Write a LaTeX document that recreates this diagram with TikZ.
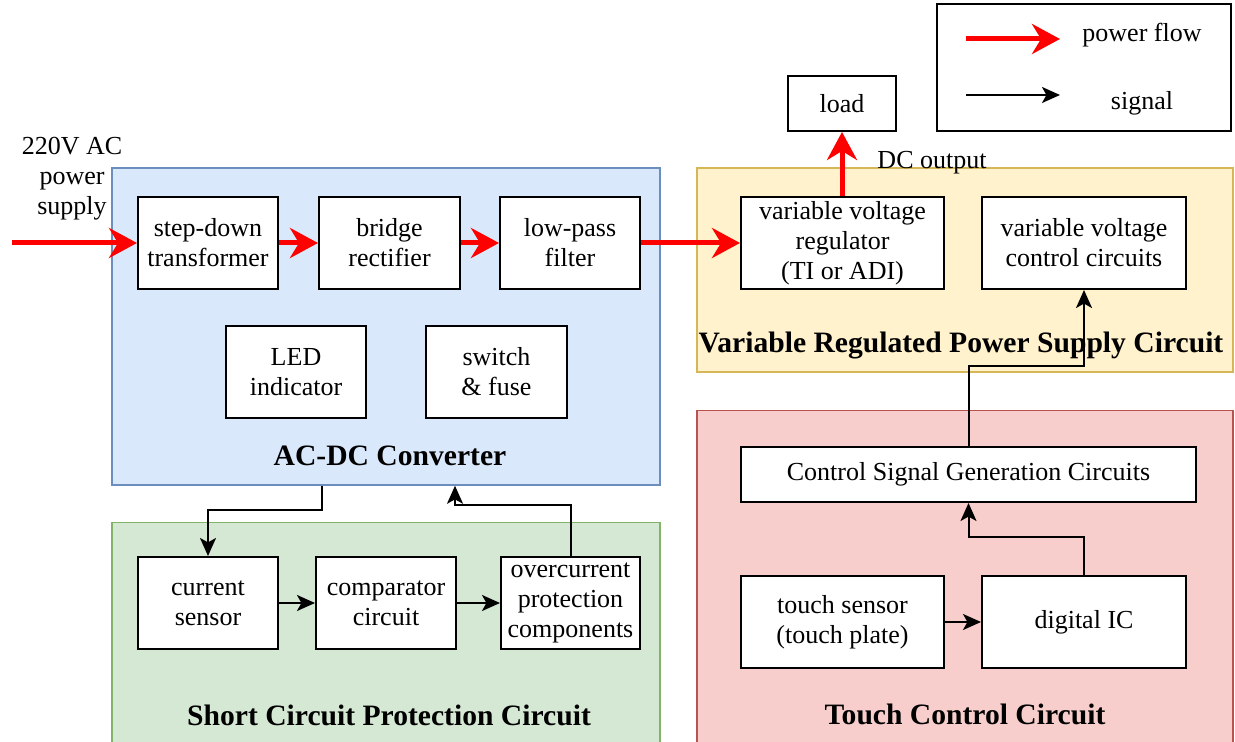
\documentclass[tikz,border=0pt]{standalone}
\usepackage{fontspec}
\setmainfont{Liberation Serif}
\usetikzlibrary{arrows.meta}
\definecolor{bfill}{HTML}{DAE8FC}\definecolor{bline}{HTML}{6C8EBF}
\definecolor{gfill}{HTML}{D5E8D4}\definecolor{gline}{HTML}{82B366}
\definecolor{yfill}{HTML}{FFF2CC}\definecolor{yline}{HTML}{D6B656}
\definecolor{rfill}{HTML}{F8CECC}\definecolor{rline}{HTML}{B85450}
\definecolor{pwred}{HTML}{FF0000}
\begin{document}
\begin{tikzpicture}[x=0.5pt,y=-0.5pt,
  box/.style={draw=black, line width=1pt, fill=white, align=center, inner sep=0pt,
    font=\fontsize{13}{15}\selectfont},
  container/.style={draw, line width=0.75pt, inner sep=0pt},
  title/.style={font=\fontsize{14.8}{17}\selectfont\bfseries},
  lbl/.style={font=\fontsize{13}{15}\selectfont, align=center, inner sep=0pt},
  pw/.style={draw=pwred, line width=2.5pt, -{Stealth[length=14pt,width=15pt,inset=4.5pt]}},
  sig/.style={draw=black, line width=1pt, -{Stealth[length=9pt,width=8pt,inset=2.2pt]}}]
\useasboundingbox[fill=white] (0,0) rectangle (1235,742);
% containers
\node[container, draw=bline, fill=bfill, minimum width=274pt, minimum height=158.5pt] (acdc) at (386,326.5) {};
\node[container, draw=gline, fill=gfill, minimum width=274pt, minimum height=112.5pt] (scp) at (386,635) {};
\node[container, draw=yline, fill=yfill, minimum width=268pt, minimum height=102pt] (vrp) at (965,270) {};
\node[container, draw=rline, fill=rfill, minimum width=268pt, minimum height=170.5pt] (tcc) at (965,581) {};
% titles
\node[title] (tacdc) at (390,456) {AC-DC Converter};
\node[title] (tvrp) at (961,345) {Variable Regulated Power Supply Circuit};
\node[title] (tscp) at (389,715) {Short Circuit Protection Circuit};
\node[title] (ttcc) at (965,714) {Touch Control Circuit};
% AC-DC boxes
\node[box, minimum width=70pt, minimum height=46pt] (sd) at (208,243) {step-down\\transformer};
\node[box, minimum width=70.5pt, minimum height=46pt] (br) at (389.5,243) {bridge\\rectifier};
\node[box, minimum width=70pt, minimum height=46pt] (lp) at (570,243) {low-pass\\filter};
\node[box, minimum width=70pt, minimum height=46pt] (led) at (296,372) {LED\\indicator};
\node[box, minimum width=70.5pt, minimum height=46pt] (sw) at (496.5,372) {switch\\\& fuse};
% variable regulated
\node[box, minimum width=101.5pt, minimum height=46pt] (vvr) at (842.5,243) {variable voltage\\regulator\\(TI or ADI)};
\node[box, minimum width=102pt, minimum height=46pt] (vvc) at (1084,243) {variable voltage\\control circuits};
\node[box, minimum width=54pt, minimum height=27.5pt] (load) at (842,103.5) {load};
\node[lbl] (dco) at (932,163) {DC output};
% short circuit
\node[box, minimum width=70pt, minimum height=46pt] (cs) at (208,603) {current\\sensor};
\node[box, minimum width=70pt, minimum height=46pt] (cmp) at (386,603) {comparator\\circuit};
\node[box, minimum width=69.5pt, minimum height=46pt] (oc) at (570.5,603) {overcurrent\\protection\\components};
% touch
\node[box, minimum width=227.5pt, minimum height=27.5pt] (csg) at (968.5,474.5) {Control Signal Generation Circuits};
\node[box, minimum width=101.5pt, minimum height=46pt] (ts) at (842.5,622) {touch sensor\\(touch plate)};
\node[box, minimum width=102pt, minimum height=46pt] (dic) at (1084,622) {digital IC};
% input label
\node[lbl] (ac) at (72,179) {220V AC\\power\\supply};
\coordinate (in) at (12,243);
% legend
\node[box, minimum width=147pt, minimum height=63.5pt] (leg) at (1084,67.5) {};
\node[lbl] (lpw) at (1142,35) {power flow};
\node[lbl] (lsg) at (1142,103) {signal};
\coordinate (l1a) at (966,39); \coordinate (l1b) at (1060,39);
\coordinate (l2a) at (966,95); \coordinate (l2b) at (1060,95);
\draw[pw] (l1a) -- (l1b);
\draw[sig] (l2a) -- (l2b);
% power flow
\draw[pw] (in) -- (sd.west);
\draw[pw] (sd.east) -- (br.west);
\draw[pw] (br.east) -- (lp.west);
\draw[pw] (lp.east) -- (vvr.west);
\draw[pw] (vvr.north -| load.south) -- (load.south);
% signals
\coordinate (p1) at (322,510);
\draw[sig] (p1 |- acdc.south) -- (p1) -| (cs.north);
\coordinate (p2) at (455,505);
\draw[sig] (oc.north) |- (p2) -- (p2 |- acdc.south);
\draw[sig] (cs.east) -- (cmp.west);
\draw[sig] (cmp.east) -- (oc.west);
\draw[sig] (ts.east) -- (dic.west);
\coordinate (p3) at (968.5,537);
\draw[sig] (dic.north) |- (p3) -- (csg.south);
\coordinate (p4) at (1084,366);
\draw[sig] (csg.north) |- (p4) -- (vvc.south);
\end{tikzpicture}
\end{document}
